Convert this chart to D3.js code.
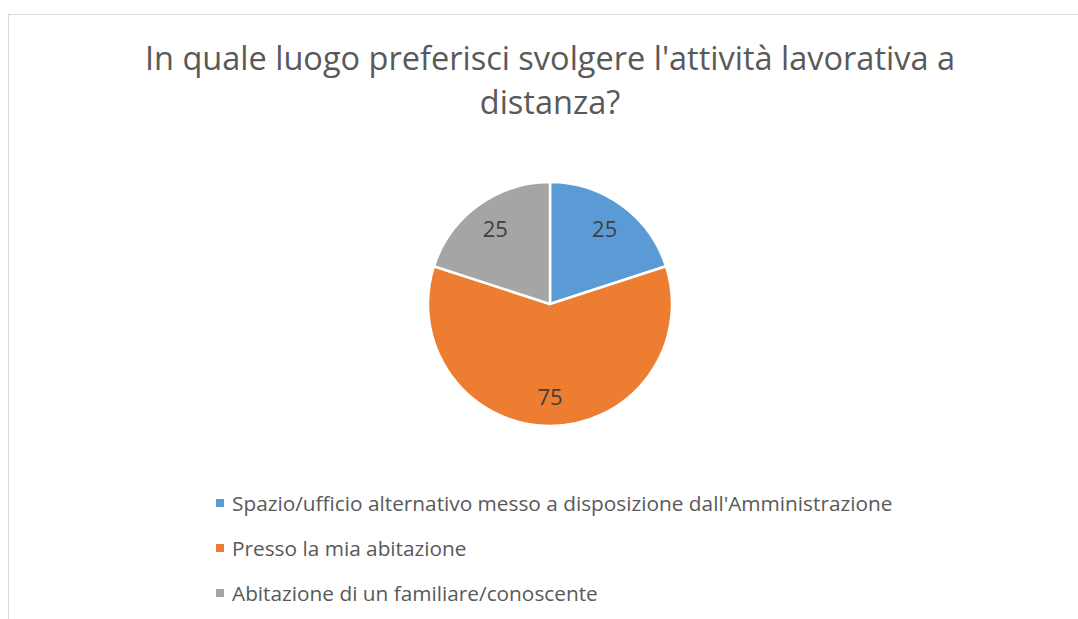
<!DOCTYPE html>
<html>
<head>
<meta charset="utf-8">
<script src="https://cdn.jsdelivr.net/npm/d3@7"></script>
<style>
  html, body { margin: 0; padding: 0; background: #fff; }
  svg { display: block; font-family: "Open Sans", sans-serif; }
</style>
</head>
<body>
<svg id="chart" width="1078" height="619"></svg>
<script>
// Survey answers: where people prefer to work remotely
const categories = [
  "Spazio/ufficio alternativo messo a disposizione dall'Amministrazione",
  "Presso la mia abitazione",
  "Abitazione di un familiare/conoscente"
];
const values = [25, 75, 25];
const colors = ["#5B9BD5", "#ED7D31", "#A5A5A5"];
const titleLines = ["In quale luogo preferisci svolgere l'attività lavorativa a", "distanza?"];

const W = 1078, H = 619;
const svg = d3.select("#chart");

// chart area frame
svg.append("rect")
  .attr("x", 8.5).attr("y", 14.5)
  .attr("width", W + 10).attr("height", H + 10)
  .attr("fill", "#fff").attr("stroke", "#d9d9d9").attr("stroke-width", 1);

// title
const title = svg.append("text")
  .attr("text-anchor", "middle")
  .attr("fill", "#595959")
  .style("font-size", "32.5px");
titleLines.forEach((t, i) => {
  title.append("tspan").attr("x", 550).attr("y", 70 + i * 44).text(t);
});

// pie
const cx = 550, cy = 304, r = 122;
const pie = d3.pie().sort(null).value(d => d)(values);
const arc = d3.arc().innerRadius(0).outerRadius(r);
const labelArc = d3.arc().innerRadius(93).outerRadius(93);

const g = svg.append("g").attr("transform", `translate(${cx},${cy})`);
g.selectAll("path.slice")
  .data(pie)
  .join("path")
  .attr("class", "slice")
  .attr("d", arc)
  .attr("fill", (d, i) => colors[i])
  .attr("stroke", "#fff")
  .attr("stroke-width", 2.5)
  .attr("stroke-linejoin", "round");

g.selectAll("text.val")
  .data(pie)
  .join("text")
  .attr("class", "val")
  .attr("transform", d => `translate(${labelArc.centroid(d)})`)
  .attr("text-anchor", "middle")
  .attr("dy", "0.36em")
  .attr("fill", "#404040")
  .style("font-size", "22px")
  .text(d => d.data);

// legend
const legend = svg.append("g");
const rows = legend.selectAll("g")
  .data(categories)
  .join("g")
  .attr("transform", (d, i) => `translate(216, ${503 + i * 45})`);
rows.append("rect")
  .attr("x", 0).attr("y", -4).attr("width", 8).attr("height", 8)
  .attr("fill", (d, i) => colors[i]);
rows.append("text")
  .attr("x", 16).attr("dy", "0.36em")
  .attr("fill", "#595959")
  .style("font-size", "20.8px")
  .text(d => d);
</script>
</body>
</html>
